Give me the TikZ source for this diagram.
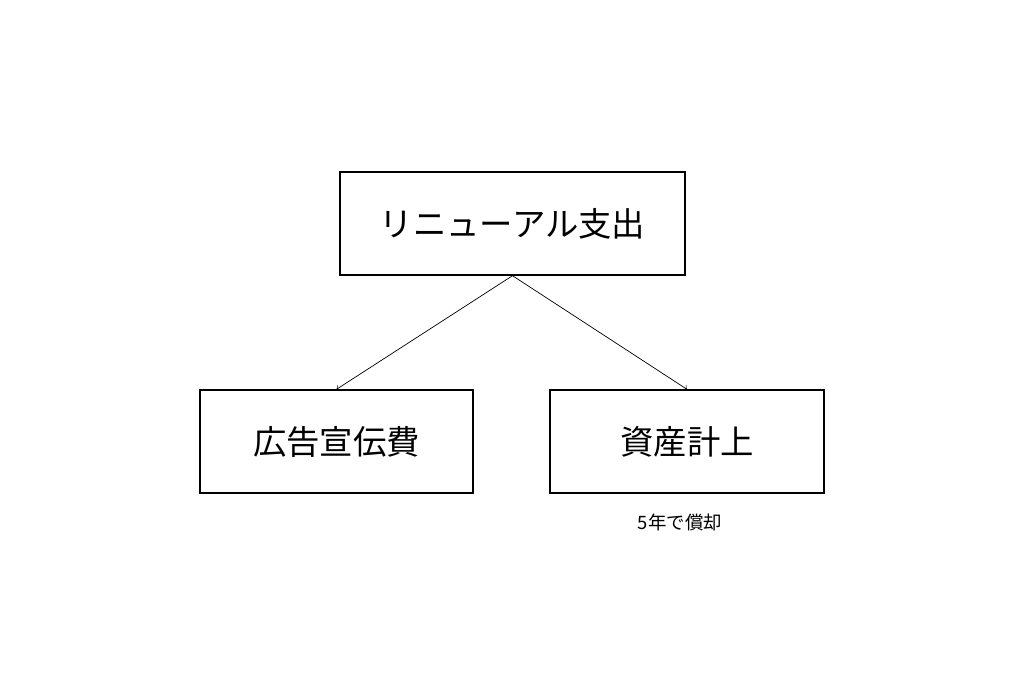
\documentclass[tikz,border=0pt]{standalone}
\usepackage{fontspec}
\newfontfamily\cjk{Noto Sans CJK JP}
\begin{document}
\begin{tikzpicture}[x=0.02cm,y=-0.02cm,
	box/.style={draw,thick,minimum width=5.5cm,minimum height=2.06cm,font=\cjk\fontsize{19}{22}\selectfont}]
	\useasboundingbox (0,0) rectangle (1024,687);
	\node[box,minimum width=6.9cm] (top) at (512.5,223.5) {リニューアル支出};
	\node[box,minimum width=5.46cm] (ad) at (336.5,441.5) {広告宣伝費};
	\node[box,minimum width=5.48cm] (asset) at (687,441.5) {資産計上};
	\draw[->] (top.south) -- (ad.north);
	\draw[->] (top.south) -- (asset.north);
	\node[font=\cjk\fontsize{10.5}{12}\selectfont] (note) at (680,522) {5年で償却};
\end{tikzpicture}
\end{document}
